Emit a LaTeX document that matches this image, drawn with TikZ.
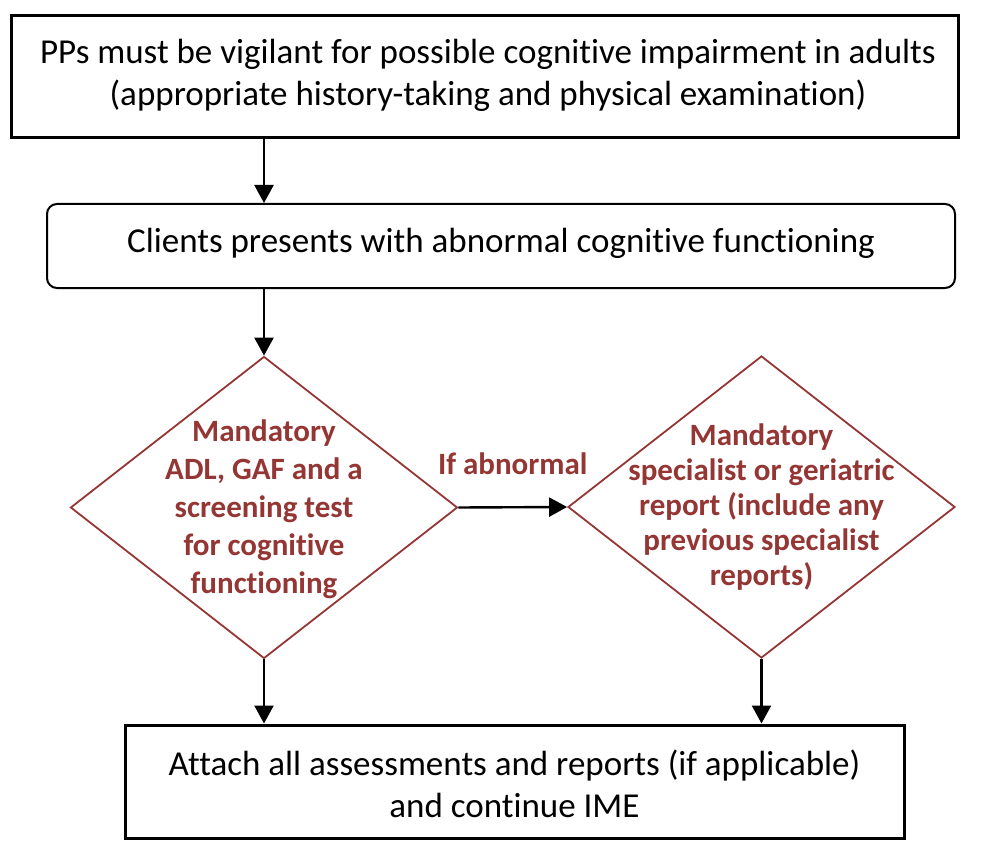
\documentclass[tikz,border=0pt]{standalone}
\usepackage{fontspec}
\setmainfont{Carlito}[Ligatures=NoCommon]
\usetikzlibrary{shapes.geometric,arrows.meta}
\definecolor{dred}{HTML}{943634}
\begin{document}
\begin{tikzpicture}[x={(1pt,0)},y={(0,-1pt)},
  plainbox/.style={draw=black,rectangle,inner sep=0pt},
  maintext/.style={font=\fontsize{35}{42}\selectfont,align=center,text=black},
  dtext/.style={font=\fontsize{31}{38}\selectfont\bfseries,align=center,text=dred},
  decision/.style={draw=dred,line width=1.8pt,diamond,inner sep=0pt,minimum width=387pt,minimum height=302pt},
  flow/.style={-{Triangle[length=18pt,width=19pt]},line width=2.4pt,black}]
\useasboundingbox (0,0) rectangle (986,848);
\fill[white] (0,0) rectangle (986,848);
\node[plainbox,line width=3pt,minimum width=947pt,minimum height=122pt] (top) at (484.5,77) {};
\node[maintext] (toptext) at (488,75) {PPs must be vigilant for possible cognitive impairment in adults\\(appropriate history-taking and physical examination)};
\node[plainbox,line width=2pt,rounded corners=10pt,minimum width=908pt,minimum height=84pt] (cli) at (501,246) {};
\node[maintext] (clitext) at (501,243) {Clients presents with abnormal cognitive functioning};
\node[decision] (d1) at (264,507.5) {};
\node[dtext] (d1text) at (264,509) {Mandatory\\ADL, GAF and a\\screening test\\for cognitive\\functioning};
\node[decision] (d2) at (761.5,507) {};
\node[dtext,font=\fontsize{31}{35}\selectfont\bfseries] (d2text) at (761.5,507) {Mandatory\\specialist or geriatric\\report (include any\\previous specialist\\reports)};
\node[plainbox,line width=3pt,minimum width=779pt,minimum height=113pt] (bot) at (514.5,781.5) {};
\node[maintext] (bottext) at (514.5,783.5) {Attach all assessments and reports (if applicable)\\and continue IME};
\draw[flow] (top.south -| d1.north) -- (cli.north -| d1.north);
\draw[flow] (cli.south -| d1.north) -- (d1.north);
\draw[flow] (d1.east) -- node[above=28pt,dtext] (lab) {If abnormal} (d2.west);
\draw[flow] (d1.south) -- (bot.north -| d1.south);
\draw[flow] (d2.south) -- (bot.north -| d2.south);
\end{tikzpicture}
\end{document}
